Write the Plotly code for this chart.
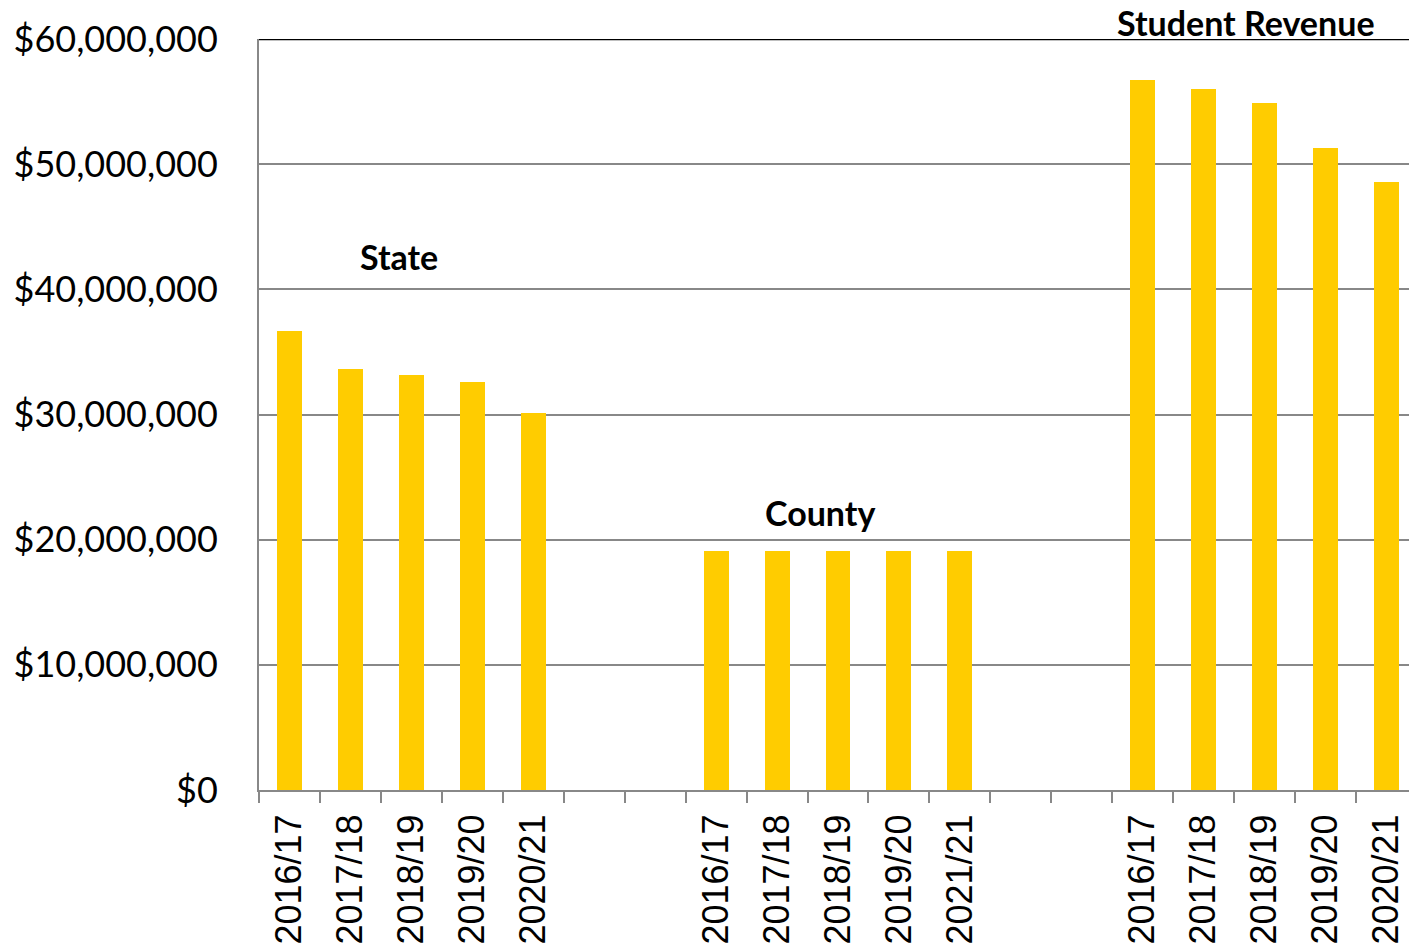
import plotly.graph_objects as go

# one row per category slot; blank slots separate the three groups
slot_labels = [
    "2016/17", "2017/18", "2018/19", "2019/20", "2020/21", "", "",
    "2016/17", "2017/18", "2018/19", "2019/20", "2021/21", "", "",
    "2016/17", "2017/18", "2018/19", "2019/20", "2020/21",
]
revenue = [
    36_700_000, 33_600_000, 33_150_000, 32_600_000, 30_100_000, None, None,
    19_100_000, 19_100_000, 19_100_000, 19_100_000, 19_100_000, None, None,
    56_700_000, 56_000_000, 54_900_000, 51_300_000, 48_600_000,
]
group_names = ["State", "County", "Student Revenue"]
y_ticks = [0, 10_000_000, 20_000_000, 30_000_000, 40_000_000, 50_000_000, 60_000_000]
y_tick_text = ["$0", "$10,000,000", "$20,000,000", "$30,000,000",
               "$40,000,000", "$50,000,000", "$60,000,000"]

positions = list(range(len(slot_labels)))

fig = go.Figure()
fig.add_trace(
    go.Bar(
        x=positions,
        y=revenue,
        width=0.41,
        marker=dict(color="#FFCC00", line=dict(width=0)),
        hoverinfo="y",
    )
)

# group labels (the last one sits above the plot area, so paper y)
label_pos = [
    (1.8, 42_650_000, "y", "middle"),
    (8.7, 22_200_000, "y", "middle"),
    (15.69, 1.05, "paper", "top"),
]
for name, (lx, ly, yref, yanchor) in zip(group_names, label_pos):
    fig.add_annotation(
        x=lx, y=ly, text=f"<b>{name}</b>", showarrow=False,
        xref="x", yref=yref, yanchor=yanchor, borderpad=0,
        font=dict(family="Lato, Open Sans, sans-serif", size=34, color="black"),
    )

# black top line at 60M
fig.add_shape(
    type="line", xref="paper", yref="y", x0=0, x1=1, y0=60_000_000, y1=60_000_000,
    line=dict(color="black", width=2.5),
)

fig.update_layout(
    width=1409,
    height=938,
    margin=dict(l=251, r=0, t=31, b=156),
    paper_bgcolor="white",
    plot_bgcolor="white",
    showlegend=False,
    bargap=0,
    xaxis=dict(
        range=[-0.5, len(slot_labels) - 0.5],
        tickmode="array",
        tickvals=positions,
        ticktext=slot_labels,
        tickangle=-90,
        ticks="",
        showgrid=False,
        zeroline=False,
        showline=True,
        linecolor="#888888",
        linewidth=2,
        automargin=False,
        tickfont=dict(family="Liberation Sans, Arial, sans-serif", size=36, color="black"),
        ticklabelstandoff=8,
        minor=dict(tick0=-0.5, dtick=1, ticks="outside", ticklen=11,
                   tickcolor="#888888", tickwidth=2, showgrid=False),
    ),
    yaxis=dict(
        range=[0, 60_000_000],
        tickmode="array",
        tickvals=y_ticks,
        ticktext=y_tick_text,
        showgrid=True,
        gridcolor="#888888",
        gridwidth=2,
        zeroline=False,
        showline=True,
        linecolor="#888888",
        linewidth=2,
        ticks="",
        automargin=False,
        ticklabelstandoff=32,
        tickfont=dict(family="Lato, Open Sans, sans-serif", size=36, color="black"),
    ),
)

fig.write_html("out.html")
